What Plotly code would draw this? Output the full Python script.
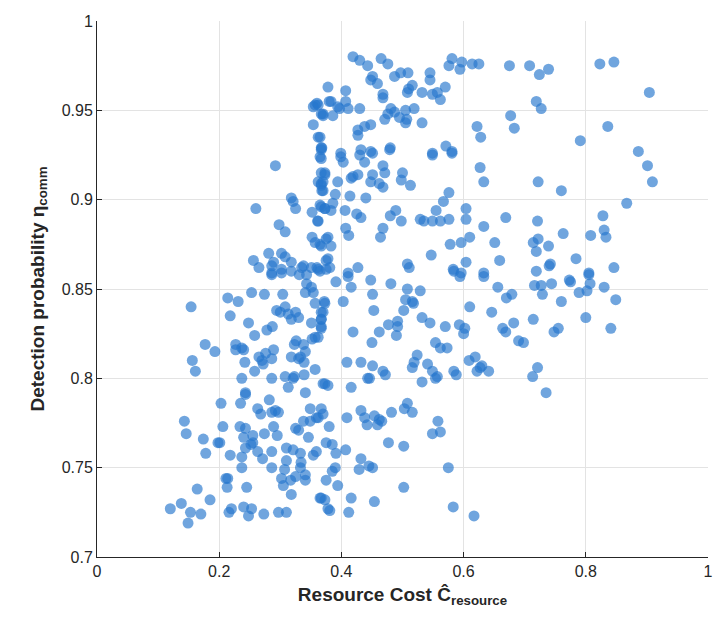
import plotly.graph_objects as go

# Resource cost (x) and detection probability (y)
resource_cost = [
0.419,0.430,0.443,0.465,0.476,0.451,0.448,0.459,0.468,0.468,0.487,0.497,0.509,0.516,0.508,0.510,0.532,0.545,0.545,0.549,
0.557,0.562,0.570,0.576,0.581,0.594,0.597,0.614,0.625,0.378,0.407,0.383,0.394,0.397,0.407,0.411,0.362,0.370,0.386,0.430,
0.481,0.487,0.476,0.471,0.495,0.505,0.507,0.505,0.519,0.532,0.427,0.427,0.438,0.448,0.365,0.368,0.399,0.432,0.448,0.480,
0.549,0.571,0.581,0.622,0.628,0.357,0.360,0.367,0.354,0.370,0.354,0.362,0.367,0.380,
0.675,0.708,0.724,0.739,0.719,0.727,0.677,0.683,0.823,0.846,0.904,0.836,0.791,0.886,
0.292,0.260,0.318,0.321,0.325,0.298,0.308,0.352,0.361,0.367,0.373,0.365,0.367,0.367,0.373,0.362,0.370,0.367,0.368,0.352,
0.357,0.367,0.375,0.375,0.256,0.265,0.281,0.289,0.286,0.302,0.308,0.318,0.318,0.302,0.286,0.335,0.338,0.351,0.362,0.375,0.331,
0.367,0.399,0.403,0.430,0.438,0.451,0.479,0.549,0.581,0.627,0.633,0.468,0.471,0.451,0.448,0.462,0.468,0.427,0.419,0.416,
0.394,0.500,0.498,0.513,0.373,0.367,0.370,0.390,0.414,0.440,0.576,0.567,0.365,0.373,0.383,0.386,0.406,0.425,0.432,0.480,
0.489,0.498,0.529,0.535,0.549,0.555,0.562,0.576,0.604,0.604,0.633,0.362,0.407,0.412,0.468,0.464,0.365,0.378,0.383,0.378,
0.381,0.360,0.427,0.508,0.511,0.547,0.578,0.596,0.610,0.604,0.583,0.596,0.411,0.633,
0.722,0.760,0.901,0.909,0.867,0.669,0.721,0.763,0.828,0.830,0.833,0.808,0.651,0.714,0.722,0.739,0.719,0.659,0.784,0.719,
0.740,0.742,0.846,0.805,
0.154,0.214,0.231,0.253,0.274,0.304,0.218,0.248,0.258,0.278,0.287,0.294,0.308,0.300,0.313,0.325,0.318,0.330,0.343,0.351,
0.341,0.354,0.357,0.372,0.367,0.351,0.367,0.367,0.357,0.352,0.227,0.227,0.237,0.240,0.177,0.193,0.156,0.161,0.242,0.265,
0.270,0.276,0.289,0.286,0.272,0.258,0.237,0.286,0.308,0.321,0.323,0.339,0.318,0.326,0.323,0.338,0.341,0.330,0.333,0.339,
0.357,0.373,0.313,0.243,0.341,0.286,0.302,0.343,0.365,
0.391,0.411,0.416,0.448,0.481,0.508,0.529,0.451,0.505,0.516,0.518,0.502,0.453,0.403,0.373,0.370,0.367,0.367,0.362,0.419,
0.462,0.477,0.492,0.492,0.490,0.450,0.532,0.545,0.570,0.593,0.602,0.600,0.610,0.594,0.584,0.633,0.554,0.562,0.573,0.524,
0.519,0.516,0.541,0.549,0.557,0.554,0.532,0.584,0.588,0.609,0.619,0.627,0.622,0.409,0.432,0.451,0.468,0.472,0.443,0.446,
0.370,0.378,0.416,
0.656,0.670,0.679,0.716,0.727,0.729,0.744,0.773,0.775,0.760,0.789,0.802,0.807,0.805,0.830,0.849,0.646,0.714,0.682,0.664,
0.669,0.748,0.755,0.690,0.698,0.800,0.841,0.630,0.641,0.721,0.713,0.735,
0.243,0.203,0.235,0.263,0.282,0.268,0.286,0.292,0.297,0.143,0.146,0.174,0.178,0.198,0.201,0.206,0.234,0.243,0.240,0.255,
0.274,0.289,0.295,0.243,0.252,0.255,0.263,0.271,0.286,0.237,0.218,0.237,0.286,0.310,0.321,0.333,0.359,0.354,0.310,0.307,
0.334,0.333,0.341,0.325,0.302,0.305,0.317,0.341,0.318,0.211,0.214,0.213,0.245,0.164,0.185,0.138,0.120,0.153,0.149,0.170,
0.216,0.220,0.240,0.253,0.248,0.273,0.297,0.310,0.346,0.367,0.359,0.362,0.349,0.338,0.349,0.325,0.330,0.375,0.373,0.365,0.378,
0.370,0.380,0.409,0.432,0.438,0.442,0.454,0.462,0.459,0.466,0.482,0.508,0.503,0.516,0.558,0.549,0.562,0.477,0.502,0.385,
0.391,0.407,0.432,0.445,0.451,0.429,0.390,0.385,0.375,0.394,0.367,0.381,0.416,0.412,0.454,0.502,0.575,0.583,0.617,
]
detection_prob = [
0.980,0.978,0.975,0.979,0.976,0.969,0.967,0.965,0.959,0.957,0.969,0.971,0.971,0.964,0.960,0.962,0.960,0.971,0.967,0.959,
0.960,0.956,0.963,0.975,0.979,0.973,0.977,0.976,0.976,0.963,0.961,0.955,0.952,0.951,0.955,0.951,0.953,0.948,0.947,0.951,
0.951,0.949,0.948,0.945,0.946,0.950,0.945,0.943,0.951,0.943,0.939,0.936,0.941,0.942,0.935,0.929,0.926,0.928,0.927,0.929,
0.926,0.930,0.927,0.941,0.935,0.953,0.954,0.948,0.952,0.947,0.942,0.935,0.929,0.955,
0.975,0.975,0.970,0.973,0.955,0.951,0.947,0.940,0.976,0.977,0.960,0.941,0.933,0.927,
0.919,0.895,0.901,0.899,0.895,0.886,0.882,0.893,0.888,0.896,0.895,0.924,0.928,0.915,0.915,0.910,0.910,0.908,0.905,0.879,
0.876,0.874,0.878,0.866,0.866,0.862,0.870,0.865,0.863,0.870,0.868,0.865,0.860,0.861,0.859,0.862,0.863,0.862,0.861,0.861,0.858,
0.923,0.924,0.921,0.925,0.921,0.926,0.928,0.925,0.926,0.918,0.910,0.919,0.915,0.914,0.910,0.909,0.907,0.914,0.913,0.912,
0.910,0.915,0.911,0.908,0.914,0.909,0.905,0.903,0.902,0.901,0.904,0.899,0.897,0.895,0.894,0.898,0.894,0.892,0.890,0.891,
0.894,0.888,0.889,0.888,0.888,0.894,0.888,0.889,0.895,0.889,0.885,0.888,0.884,0.880,0.884,0.879,0.875,0.879,0.874,0.867,
0.862,0.862,0.862,0.864,0.862,0.869,0.875,0.876,0.879,0.865,0.861,0.859,0.859,0.859,
0.910,0.905,0.919,0.910,0.898,0.890,0.888,0.881,0.891,0.883,0.879,0.880,0.876,0.876,0.878,0.874,0.871,0.866,0.867,0.860,
0.863,0.864,0.862,0.859,
0.840,0.845,0.843,0.848,0.847,0.847,0.835,0.831,0.824,0.827,0.829,0.838,0.840,0.837,0.836,0.837,0.833,0.834,0.853,0.851,
0.848,0.848,0.842,0.843,0.837,0.831,0.833,0.829,0.823,0.822,0.819,0.816,0.817,0.816,0.819,0.815,0.810,0.804,0.809,0.812,
0.810,0.814,0.816,0.811,0.808,0.804,0.800,0.800,0.801,0.800,0.801,0.802,0.812,0.821,0.819,0.819,0.815,0.811,0.812,0.809,
0.805,0.797,0.795,0.792,0.792,0.858,0.859,0.858,0.860,
0.854,0.857,0.851,0.855,0.853,0.850,0.849,0.847,0.844,0.843,0.842,0.838,0.838,0.843,0.842,0.837,0.833,0.828,0.823,0.826,
0.826,0.830,0.832,0.829,0.824,0.820,0.834,0.831,0.829,0.830,0.828,0.825,0.840,0.857,0.860,0.857,0.820,0.817,0.817,0.813,
0.809,0.806,0.808,0.804,0.801,0.800,0.798,0.804,0.802,0.810,0.812,0.806,0.804,0.809,0.809,0.807,0.804,0.802,0.800,0.800,
0.797,0.796,0.795,
0.851,0.845,0.847,0.852,0.852,0.847,0.853,0.855,0.854,0.843,0.848,0.849,0.853,0.858,0.851,0.844,0.837,0.833,0.831,0.828,
0.826,0.826,0.828,0.821,0.820,0.834,0.828,0.807,0.804,0.806,0.801,0.792,
0.791,0.786,0.786,0.783,0.788,0.780,0.781,0.782,0.781,0.776,0.769,0.766,0.758,0.764,0.764,0.773,0.773,0.772,0.767,0.768,
0.769,0.773,0.768,0.761,0.763,0.764,0.759,0.755,0.759,0.756,0.757,0.750,0.750,0.761,0.760,0.758,0.759,0.757,0.754,0.749,
0.753,0.750,0.746,0.745,0.744,0.740,0.743,0.743,0.735,0.744,0.744,0.739,0.739,0.738,0.732,0.730,0.727,0.725,0.719,0.724,
0.725,0.727,0.728,0.727,0.723,0.724,0.725,0.725,0.767,0.783,0.778,0.778,0.783,0.776,0.776,0.772,0.771,0.764,0.732,0.733,0.727,
0.780,0.773,0.778,0.782,0.778,0.774,0.779,0.777,0.774,0.776,0.781,0.786,0.783,0.781,0.776,0.769,0.770,0.764,0.762,0.763,
0.758,0.760,0.755,0.751,0.750,0.749,0.750,0.748,0.743,0.740,0.733,0.726,0.733,0.725,0.731,0.739,0.750,0.728,0.723,
]

x_ticks = [0, 0.2, 0.4, 0.6, 0.8, 1]
x_tick_labels = ["0", "0.2", "0.4", "0.6", "0.8", "1"]
y_ticks = [0.7, 0.75, 0.8, 0.85, 0.9, 0.95, 1]
y_tick_labels = ["0.7", "0.75", "0.8", "0.85", "0.9", "0.95", "1"]

n = min(len(resource_cost), len(detection_prob))

fig = go.Figure(go.Scatter(
    x=resource_cost[:n], y=detection_prob[:n], mode="markers",
    marker=dict(size=11, color="rgba(38,118,205,0.66)", line=dict(width=0)),
    hoverinfo="x+y",
))

font = "Arial, 'Liberation Sans', Helvetica, sans-serif"
axis_common = dict(
    showline=True, linecolor="#262626", linewidth=1, mirror=False,
    ticks="inside", ticklen=5, tickcolor="#262626",
    showgrid=True, gridcolor="#e3e3e3", gridwidth=1, zeroline=False,
    tickfont=dict(family=font, size=16, color="#262626"),
    ticklabeloverflow="allow",
)
fig.update_layout(
    width=716, height=631,
    margin=dict(l=97, r=3, t=21, b=74),
    paper_bgcolor="white", plot_bgcolor="white",
    showlegend=False,
    font=dict(family=font, color="#262626"),
    xaxis=dict(range=[0, 1], tickvals=x_ticks, ticktext=x_tick_labels,
               title=dict(text="<b>Resource Cost Ĉ<sub>resource</sub></b>",
                          font=dict(size=19, family=font), standoff=8),
               **axis_common),
    yaxis=dict(range=[0.7, 1], tickvals=y_ticks, ticktext=y_tick_labels,
               title=dict(text="<b>Detection probability η<sub>comm</sub></b>",
                          font=dict(size=19, family=font), standoff=12),
               **axis_common),
)
fig.write_html("out.html")
